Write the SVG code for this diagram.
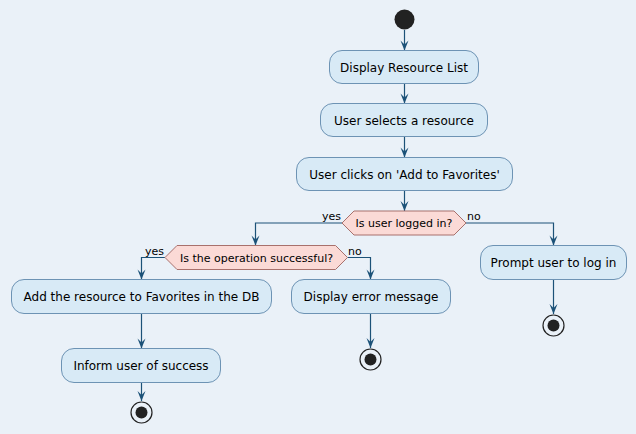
<svg xmlns="http://www.w3.org/2000/svg" width="636" height="434" viewBox="0 0 636 434">
<defs>
<style>
.act rect{fill:#D8EAF6;stroke:#6D93B4;stroke-width:1}
.act text,.dec text,.lbl{font-family:"DejaVu Sans",sans-serif;fill:#000}
.act text{font-size:12px;text-anchor:middle}
.dec polygon{fill:#FBDAD6;stroke:#A8716C;stroke-width:1}
.dec text{font-size:11px;text-anchor:middle}
.lbl{font-size:11px}
.edge{fill:none;stroke:#1C5278;stroke-width:1.2;marker-end:url(#ah)}
.start{fill:#222}
.end circle.o{fill:none;stroke:#222;stroke-width:1.2}
.end circle.i{fill:#222}
</style>
<marker id="ah" markerUnits="userSpaceOnUse" orient="auto" refX="0" refY="0" markerWidth="12" markerHeight="10" viewBox="-11 -5 12 10" overflow="visible">
<path d="M0,0 L-10,-4 L-6,0 L-10,4 Z" fill="#1C5278"/>
</marker>
</defs>
<rect width="636" height="434" fill="#EAF1F8"/>
<g id="connectors">
<path class="edge" d="M404.5,30 V50.5"/>
<path class="edge" d="M404.5,83.5 V103.5"/>
<path class="edge" d="M404.5,136.5 V157.5"/>
<path class="edge" d="M404.5,190.5 V211"/>
<path class="edge" d="M342,223 H255.5 V245.5"/>
<path class="edge" d="M466,223 H553.5 V245.5"/>
<path class="edge" d="M165,257.5 H141.5 V279.5"/>
<path class="edge" d="M347.5,257.5 H370.5 V279.5"/>
<path class="edge" d="M141.5,313.5 V348.5"/>
<path class="edge" d="M141.5,382.5 V401"/>
<path class="edge" d="M370.5,313.5 V348"/>
<path class="edge" d="M553.5,279.5 V314"/>
<text class="lbl" x="341" y="220" text-anchor="end">yes</text>
<text class="lbl" x="467" y="220">no</text>
<text class="lbl" x="164" y="254.5" text-anchor="end">yes</text>
<text class="lbl" x="348" y="254.5">no</text>
</g>
<g id="start"><circle class="start" cx="404.5" cy="19.5" r="10"/></g>
<g id="displayList" class="act"><rect x="329.5" y="50.5" width="149" height="33" rx="12.5"/><text x="404" y="71.5">Display Resource List</text></g>
<g id="selectResource" class="act"><rect x="320.5" y="103.5" width="167" height="33" rx="12.5"/><text x="404" y="124.5">User selects a resource</text></g>
<g id="clickAdd" class="act"><rect x="296.5" y="157.5" width="216" height="33" rx="12.5"/><text x="404.5" y="178.5">User clicks on 'Add to Favorites'</text></g>
<g id="loggedIn" class="dec"><polygon points="342,223 354,211 454,211 466,223 454,235 354,235"/><text x="404" y="227">Is user logged in?</text></g>
<g id="opSuccess" class="dec"><polygon points="165,257.5 177,245.5 335.5,245.5 347.5,257.5 335.5,269.5 177,269.5"/><text x="256.5" y="261.5">Is the operation successful?</text></g>
<g id="addFav" class="act"><rect x="11.5" y="279.5" width="260" height="34" rx="12.5"/><text x="141.5" y="301">Add the resource to Favorites in the DB</text></g>
<g id="informSuccess" class="act"><rect x="61.5" y="348.5" width="159" height="34" rx="12.5"/><text x="141" y="370">Inform user of success</text></g>
<g id="end1" class="end"><circle class="o" cx="141.5" cy="412.5" r="10.5"/><circle class="i" cx="141.5" cy="412.5" r="6"/></g>
<g id="errorMsg" class="act"><rect x="291.5" y="279.5" width="159" height="34" rx="12.5"/><text x="371" y="301">Display error message</text></g>
<g id="end2" class="end"><circle class="o" cx="370.5" cy="359.5" r="10.5"/><circle class="i" cx="370.5" cy="359.5" r="6"/></g>
<g id="promptLogin" class="act"><rect x="480.5" y="245.5" width="146" height="34" rx="12.5"/><text x="553.5" y="267">Prompt user to log in</text></g>
<g id="end3" class="end"><circle class="o" cx="553.5" cy="325.5" r="10.5"/><circle class="i" cx="553.5" cy="325.5" r="6"/></g>
</svg>
